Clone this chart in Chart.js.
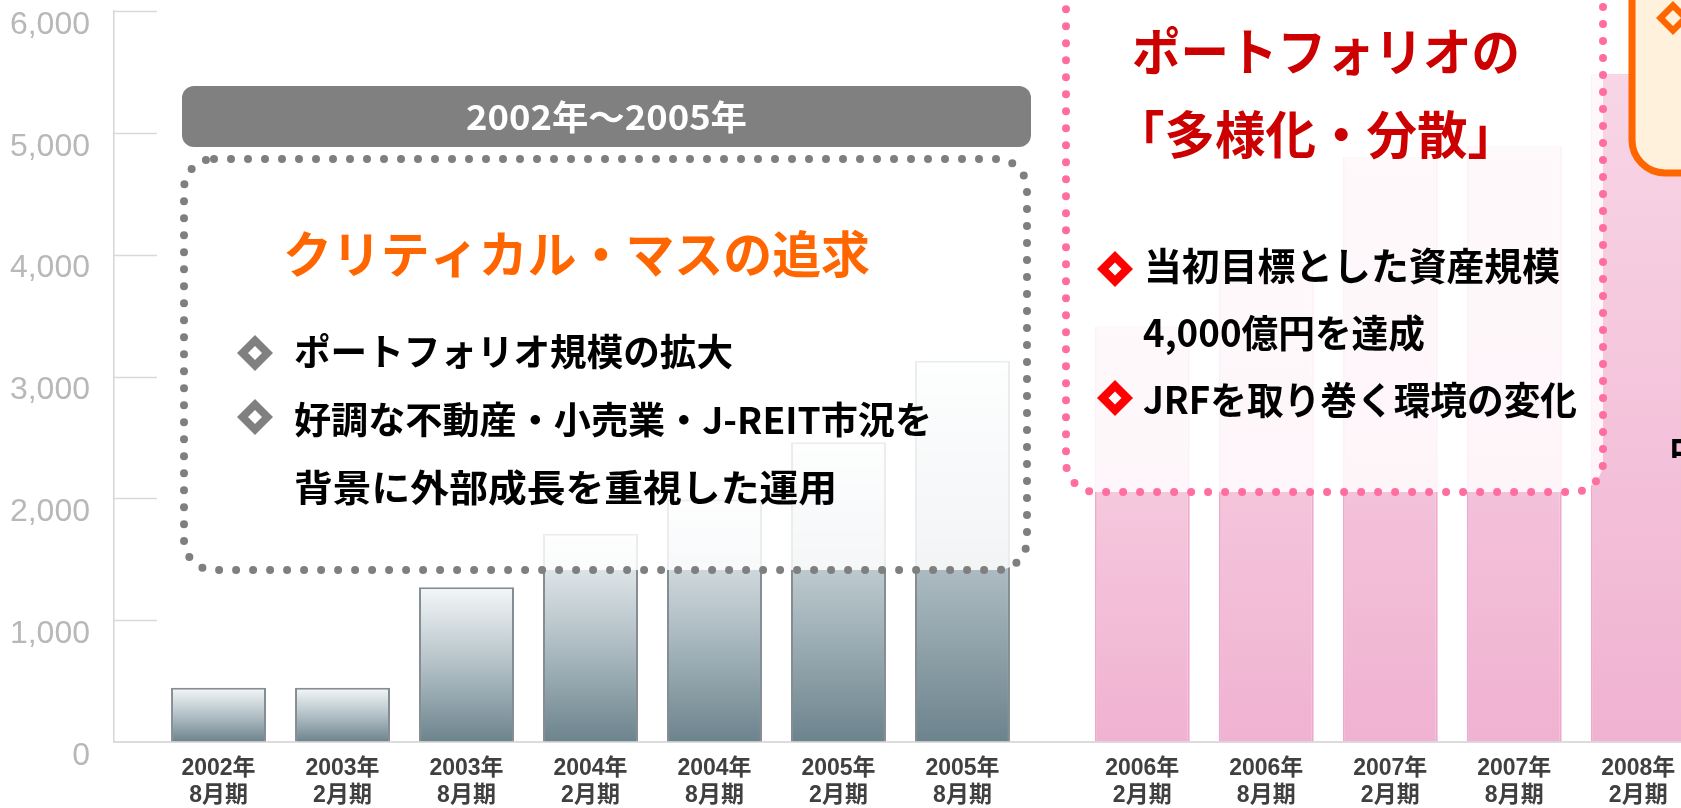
<!DOCTYPE html>
<html lang="ja">
<head>
<meta charset="utf-8">
<title>ポートフォリオ規模の推移</title>
<script src="https://cdn.jsdelivr.net/npm/chart.js@4.4.1/dist/chart.umd.min.js"></script>
<style>
  html, body { margin: 0; padding: 0; background: #fff; overflow: hidden; }
  canvas { display: block; }
</style>
</head>
<body>
<canvas id="assetChart" width="1760" height="808"></canvas>
<script>
// periods (fiscal term labels) and asset size (億円)
const periods = [
  ["2002年", "8月期"], ["2003年", "2月期"], ["2003年", "8月期"],
  ["2004年", "2月期"], ["2004年", "8月期"], ["2005年", "2月期"],
  ["2005年", "8月期"], ["2006年", "2月期"], ["2006年", "8月期"],
  ["2007年", "2月期"], ["2007年", "8月期"], ["2008年", "2月期"]
];
const assetValues = [445, 445, 1270, 1710, 1990, 2460, 3130, 3410, 3940, 4800, 4890, 5480];
const yTickValues = [0, 1000, 2000, 3000, 4000, 5000, 6000];
const phaseOneCount = 7; // 2002-2005 terms, the rest is phase two

const JP = '"Noto Sans CJK JP"';
const PHASE_GAP = 0.45;
const slot = (i) => i + (i >= phaseOneCount ? PHASE_GAP : 0);

const slots = periods.map((p, i) => slot(i));
const phaseOne = [];
const phaseTwo = [];
assetValues.forEach(function (v, i) {
  (i < phaseOneCount ? phaseOne : phaseTwo).push({ x: slots[i], y: v });
});

function barGradient(stops) {
  return function (context) {
    const chart = context.chart;
    if (!chart.chartArea || !context.raw) return stops[stops.length - 1];
    const y = chart.scales.y;
    const top = y.getPixelForValue(context.raw.y);
    const base = y.getPixelForValue(0);
    const g = chart.ctx.createLinearGradient(0, top, 0, base);
    stops.forEach(function (s, i) { g.addColorStop(i / (stops.length - 1), s); });
    return g;
  };
}

function fitText(c, txt, left, cy, width, font, color) {
  c.save();
  c.font = font;
  const w = c.measureText(txt).width;
  c.translate(left, cy);
  c.scale(width / w, 1);
  c.fillStyle = color;
  c.textAlign = "left";
  c.textBaseline = "middle";
  c.fillText(txt, 0, 0);
  c.restore();
}

function diamond(c, x, y, R, r, color, innerColor) {
  c.beginPath();
  c.moveTo(x, y - R); c.lineTo(x + R, y); c.lineTo(x, y + R); c.lineTo(x - R, y);
  c.closePath();
  c.fillStyle = color;
  c.fill();
  c.beginPath();
  c.moveTo(x, y - r); c.lineTo(x + r, y); c.lineTo(x, y + r); c.lineTo(x - r, y);
  c.closePath();
  c.fillStyle = innerColor;
  c.fill();
}

function dottedBox(c, x, y, w, h, r, color) {
  c.save();
  c.beginPath();
  c.roundRect(x, y, w, h, r);
  c.fillStyle = "rgba(255,255,255,0.84)";
  c.fill();
  c.setLineDash([0, 17]);
  c.lineCap = "round";
  c.lineWidth = 8;
  c.strokeStyle = color;
  c.stroke();
  c.restore();
}

// short stubs at each y tick, right of the axis
const stubPlugin = {
  id: "stubs",
  beforeDatasetsDraw(chart) {
    const c = chart.ctx, y = chart.scales.y, left = chart.chartArea.left;
    c.save();
    c.strokeStyle = "#d9d9d9";
    c.lineWidth = 1.5;
    yTickValues.forEach(function (v) {
      if (v === 0) return;
      const py = Math.round(y.getPixelForValue(v)) + 0.5;
      c.beginPath();
      c.moveTo(left, py);
      c.lineTo(left + 43, py);
      c.stroke();
    });
    c.restore();
  }
};

// annotation boxes and texts on top of the bars
const notePlugin = {
  id: "notes",
  afterDraw(chart) {
    const c = chart.ctx;

    // phase one
    dottedBox(c, 184, 159, 843, 411, 30, "#7f7f7f");
    c.save();
    c.beginPath();
    c.roundRect(182, 86, 849, 61, 12);
    c.fillStyle = "#808080";
    c.fill();
    c.restore();
    fitText(c, "2002年～2005年", 466, 117, 281, "bold 34px " + JP, "#ffffff");
    fitText(c, "クリティカル・マスの追求", 283, 254, 587, "bold 50px " + JP, "#ff6600");
    diamond(c, 255, 353, 18, 7, "#808080", "#ffffff");
    diamond(c, 255, 417, 18, 7, "#808080", "#ffffff");
    fitText(c, "ポートフォリオ規模の拡大", 294, 352, 439, "bold 37px " + JP, "#000000");
    fitText(c, "好調な不動産・小売業・J-REIT市況を", 294, 420, 638, "bold 37px " + JP, "#000000");
    fitText(c, "背景に外部成長を重視した運用", 294, 488, 543, "bold 37px " + JP, "#000000");

    // phase two
    dottedBox(c, 1066, -60, 537, 552, 30, "#ff6e9e");
    fitText(c, "ポートフォリオの", 1132, 52, 388, "bold 51px " + JP, "#cc0000");
    fitText(c, "「多様化・分散」", 1114, 135, 404, "bold 51px " + JP, "#cc0000");
    diamond(c, 1115, 269, 18, 6.5, "#ff0000", "#ffffff");
    diamond(c, 1115, 398, 18, 6.5, "#ff0000", "#ffffff");
    fitText(c, "当初目標とした資産規模", 1144, 266, 416, "bold 38px " + JP, "#000000");
    fitText(c, "4,000億円を達成", 1143, 333, 282, "bold 38px " + JP, "#000000");
    fitText(c, "JRFを取り巻く環境の変化", 1143, 400, 434, "bold 38px " + JP, "#000000");

    // next phase (cut at the right edge)
    c.save();
    c.beginPath();
    c.roundRect(1632, -60, 200, 233, 33);
    c.fillStyle = "#fff1dc";
    c.fill();
    c.lineWidth = 7;
    c.strokeStyle = "#ff6600";
    c.stroke();
    c.restore();
    diamond(c, 1673, 18, 17, 8, "#ff6600", "#fff1dc");
    c.save();
    c.font = "bold 36px " + JP;
    c.fillStyle = "#000000";
    c.textAlign = "left";
    c.textBaseline = "middle";
    c.fillText("中", 1669, 450);
    c.restore();
  }
};

const ctx = document.getElementById("assetChart");

new Chart(ctx, {
  type: "bar",
  data: {
    datasets: [
      {
        label: "2002年～2005年",
        data: phaseOne,
        grouped: false,
        backgroundColor: barGradient(["#f4f7f9", "#b3c1c7", "#6c838d"]),
        borderColor: "#858d92",
        borderWidth: { top: 2, left: 2, right: 2, bottom: 0 },
        borderSkipped: "bottom"
      },
      {
        label: "2006年～",
        data: phaseTwo,
        grouped: false,
        backgroundColor: barGradient(["#f8d6e6", "#f4c4db", "#f0b2d1"]),
        borderColor: "#efaacb",
        borderWidth: { top: 1, left: 2, right: 2, bottom: 0 },
        borderSkipped: "bottom"
      }
    ]
  },
  options: {
    responsive: false,
    devicePixelRatio: 1,
    animation: false,
    barPercentage: 0.766,
    categoryPercentage: 1,
    layout: { padding: { top: 11, left: 0, right: 0, bottom: 0 } },
    plugins: {
      legend: { display: false },
      tooltip: { enabled: false }
    },
    scales: {
      x: {
        type: "linear",
        offset: false,
        min: -0.843,
        max: 12.432,
        grid: { display: false, drawTicks: false, offset: false },
        border: { display: true, color: "#dcdcdc", width: 2 },
        afterBuildTicks: function (scale) {
          scale.ticks = slots.map(function (v) { return { value: v }; });
        },
        afterFit: function (scale) {
          scale.height = 66;
          scale.paddingLeft = 0;
          scale.paddingRight = 0;
        },
        ticks: {
          autoSkip: false,
          maxRotation: 0,
          padding: 13,
          color: "#404040",
          font: { family: '"Liberation Sans", ' + JP, size: 23, weight: "bold", lineHeight: 1.17 },
          callback: function (value, index) { return periods[index]; }
        }
      },
      y: {
        min: 0,
        max: 6000,
        afterBuildTicks: function (scale) {
          scale.ticks = yTickValues.map(function (v) { return { value: v }; });
        },
        afterFit: function (scale) {
          scale.width = 114;
          scale.paddingTop = 0;
          scale.paddingBottom = 0;
        },
        grid: { drawOnChartArea: false, drawTicks: false },
        border: { display: true, color: "#d6d6d6", width: 1.5 },
        ticks: {
          padding: 24,
          labelOffset: 14,
          color: "#b8b8b8",
          font: { family: '"Liberation Sans"', size: 32 },
          callback: function (value) { return value.toLocaleString("en-US"); }
        }
      }
    }
  },
  plugins: [stubPlugin, notePlugin]
});
</script>
</body>
</html>
